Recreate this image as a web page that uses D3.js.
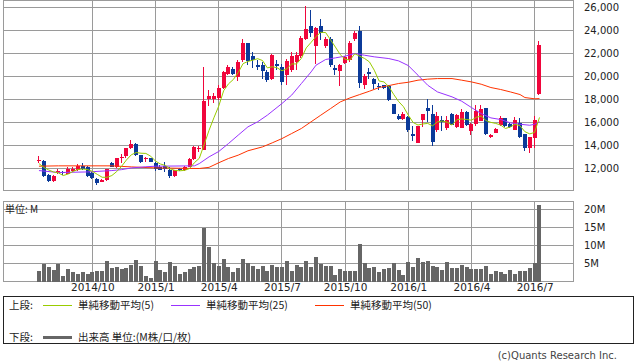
<!DOCTYPE html>
<html>
<head>
<meta charset="utf-8">
<script src="https://cdn.jsdelivr.net/npm/d3@7"></script>
<style>
body { margin: 0; background: #fff; }
svg text { font-family: "DejaVu Sans", sans-serif; fill: #222; }
.jp { font-family: "Noto Sans CJK JP", sans-serif; }
</style>
</head>
<body>
<div id="chart"></div>
<script>
// weekly bars, index 0 = first week shown
var opens = [12650,12640,11450,10900,11600,11700,11550,11750,11850,12200,
	12150,11650,11130,10850,11040,12520,12090,12870,13070,13740,
	14170,13160,12800,12870,12520,12140,12230,11860,11360,11950,
	11860,12140,12810,13700,13650,18030,18030,18090,18960,20200,
	20640,20000,21420,22870,21770,21040,21000,20410,19820,21070,
	20840,20110,20550,21270,21770,23300,24400,22670,24400,22670,
	23300,20700,20490,21190,21420,23220,23940,19250,20410,19770,
	19200,19250,19160,17590,16580,16290,16490,14980,14230,16260,
	17250,16720,15330,16200,15560,16780,15620,15560,16930,15270,
	15880,16140,17270,14700,15130,15770,16350,15910,15390,15970,
	14980,13820,14610,18520];
var highs = [13050,12750,11500,11450,11950,11800,12100,12100,12350,12450,
	12200,11700,11200,11050,12000,12600,12900,13300,13800,14460,
	14250,13200,13000,12900,12600,12300,12550,12100,11900,12050,
	12200,12900,13950,14000,20840,18800,18600,19300,20500,20990,
	20800,21450,23220,22950,22150,21400,21230,20600,22000,21400,
	21100,21550,22100,22150,23500,26100,25800,24300,25000,23400,
	23400,20980,21100,21800,23100,23960,24380,20200,20700,19900,
	19400,19300,19250,17650,16700,16900,16600,15700,15700,16750,
	18050,17500,16900,16600,16550,16800,16700,17150,17000,16000,
	17550,17550,17300,14980,15500,16560,16400,16000,16450,16350,
	15000,14700,16600,23070];
var lows = [12450,11250,10800,10850,11500,11450,11500,11700,11800,11900,
	11250,11100,10550,10800,10950,12100,12050,12450,12950,13700,
	13100,12450,12600,12550,11750,11850,11700,11200,11250,11800,
	11800,12100,12750,13450,13600,17420,17700,18000,18900,20100,
	20100,19650,21300,20980,20700,20560,19750,19500,19700,20560,
	19250,19250,20400,20600,21600,23200,23400,21130,23200,22500,
	20800,20120,19150,21050,21300,23100,19040,18950,19800,18950,
	18800,18900,17900,16700,16200,16250,15200,14400,14200,15600,
	16050,13950,15150,15300,15330,15750,15550,15500,15700,14880,
	15700,16100,14950,14650,15100,15700,15600,15550,15350,14650,
	13500,13360,13800,18380];
var closes = [12720,11360,10900,11350,11750,11600,12000,12000,12200,12000,
	11350,11180,10700,10980,11940,12140,12870,13010,13740,14170,
	13160,12580,12880,12580,12000,11910,12000,11360,11860,11850,
	12140,12810,13880,13760,17850,18290,18290,18960,20410,20840,
	20200,21270,22870,21360,21400,20840,20490,19680,21850,20950,
	19540,21330,21770,21850,23390,24120,23740,24260,23740,23250,
	20980,20560,20980,21710,22930,23740,19450,20030,20200,19330,
	19050,19040,18000,16780,16290,16780,15330,14840,15680,16720,
	17010,14320,16550,16060,16200,15770,16640,16900,15770,15910,
	17040,17160,14980,14950,15450,16350,15680,15620,16200,14700,
	13820,14700,16260,22720];
// volume, millions
var volumes = [2.9,4.9,4.0,3.2,4.9,1.6,3.4,2.6,2.0,2.6,
	2.0,2.6,2.9,2.9,5.7,3.75,4.0,3.5,3.75,4.5,
	6.0,4.2,1.5,1.1,5.7,3.1,2.5,5.4,4.3,2.0,
	2.6,3.4,3.9,4.2,14.9,9.7,5.1,4.3,6.25,4.0,
	2.6,3.65,6.25,5.1,4.3,3.5,4.2,2.9,4.5,3.9,
	4.0,5.7,2.9,4.5,3.9,5.7,3.9,6.8,4.8,4.2,
	4.2,1.9,3.4,2.8,2.8,2.8,10.3,5.1,3.65,3.9,
	2.5,3.4,3.65,5.1,3.1,1.9,5.4,3.9,6.5,5.4,
	5.7,4.2,3.9,3.1,5.4,3.65,3.65,4.5,3.9,3.4,
	3.4,3.4,4.2,2.2,2.8,2.5,2.2,3.1,2.2,2.8,
	2.8,3.65,5.1,21.3];
// moving averages
var sma5 = [12430,12100,11870,11700,11620,11390,11520,11740,11910,11960,
	11910,11750,11490,11240,11230,11390,11730,12190,12740,13190,
	13390,13330,13310,13070,12640,12390,12270,11970,11830,11800,
	11840,12000,12510,12890,14090,15320,16410,17430,18760,19360,
	19740,20340,21120,21310,21420,21550,21390,20750,20850,20760,
	20500,20670,21090,21090,21580,22490,22970,23470,23850,23820,
	23190,22560,21900,21500,21430,21980,21760,21570,21270,20550,
	19610,19530,19120,18440,17830,17380,16640,16000,15780,15870,
	15920,15710,16060,16130,16030,15780,16240,16310,16260,16200,
	16450,16560,16170,16010,15920,15780,15480,15610,15860,15710,
	15200,15010,15140,16440];
var sma25 = [[0,11820],[4,11650],[10,11700],[15,11820],[17,11900],[19,12050],[22,12150],
	[24,12200],[32,12230],[33,12430],[35,13010],[37,13480],[39,14170],[41,14900],
	[43,15620],[45,16060],[47,16640],[50,17650],[52,18380],[54,19390],[56,20400],
	[57,20980],[59,21480],[61,21620],[63,21770],[65,22000],[67,21850],[69,21710],
	[72,21560],[74,21360],[76,20950],[78,20110],[80,19240],[82,18660],[85,18230],
	[87,17850],[89,17300],[91,16780],[93,16400],[95,16260],[97,15970],[99,15850],
	[101,15760],[102,15850],[103,16060]];
var sma50 = [[0,12200],[4,12230],[15,12230],[19,12140],[24,12050],[33,12000],[35,12100],
	[37,12500],[39,12870],[41,13160],[43,13540],[46,13880],[48,14230],[50,14600],
	[52,15040],[54,15480],[56,16060],[58,16640],[60,17210],[62,17790],[64,18140],
	[66,18430],[68,18720],[70,19040],[72,19210],[74,19390],[76,19500],[78,19680],
	[80,19770],[82,19820],[85,19820],[87,19680],[89,19530],[91,19330],[93,19040],
	[95,18870],[97,18660],[99,18430],[100,18170],[102,18060],[103,18080]];

var tickWeeks = [11, 24, 37, 50, 63, 76, 89, 102];
var tickLabels = ["2014/10", "2015/1", "2015/4", "2015/7", "2015/10", "2016/1", "2016/4", "2016/7"];
var priceTicks = [12000, 14000, 16000, 18000, 20000, 22000, 24000, 26000];
var volTicks = [5, 10, 15, 20];

function init() {
	var width = 638, height = 362;
	var svg = d3.select("#chart").append("svg")
		.attr("width", width).attr("height", height);

	var x = d3.scaleLinear().domain([-7.4, 110.1]).range([3, 574]);
	var y = d3.scaleLinear().domain([10087, 26609]).range([190.5, 0.5]);
	var yv = d3.scaleLinear().domain([0, 22.22]).range([281.5, 201.5]);
	var px = function(v) { return Math.floor(v) + 0.5; };

	var grid = svg.append("g").attr("stroke", "#9a9a9a").attr("stroke-width", 1)
		.attr("shape-rendering", "crispEdges");

	// volume unit label (gridline runs through it)
	svg.append("text").attr("class", "jp")
		.attr("x", 5).attr("y", 209).attr("dy", "0.35em")
		.style("font-size", "10px").text("単位: M");

	grid.selectAll("line.hp").data(priceTicks).enter().append("line")
		.attr("x1", 3.5).attr("x2", 573.5)
		.attr("y1", function(d) { return px(y(d)); })
		.attr("y2", function(d) { return px(y(d)); });
	grid.selectAll("line.hv").data(volTicks).enter().append("line")
		.attr("x1", 3.5).attr("x2", 573.5)
		.attr("y1", function(d) { return px(yv(d)); })
		.attr("y2", function(d) { return px(yv(d)); });
	grid.selectAll("line.vp").data(tickWeeks).enter().append("line")
		.attr("x1", function(d) { return px(x(d)); })
		.attr("x2", function(d) { return px(x(d)); })
		.attr("y1", 0.5).attr("y2", 190.5);
	grid.selectAll("line.vv").data(tickWeeks).enter().append("line")
		.attr("x1", function(d) { return px(x(d)); })
		.attr("x2", function(d) { return px(x(d)); })
		.attr("y1", 201.5).attr("y2", 281.5);
	grid.append("rect").attr("x", 3.5).attr("y", 0.5).attr("width", 570).attr("height", 190).attr("fill", "none");
	grid.append("rect").attr("x", 3.5).attr("y", 201.5).attr("width", 570).attr("height", 80).attr("fill", "none");

	// volume bars
	svg.append("g").attr("shape-rendering", "crispEdges")
		.selectAll("rect").data(volumes).enter().append("rect")
		.attr("x", function(d, i) { return Math.round(x(i) - 2); })
		.attr("width", 4)
		.attr("y", function(d) { return yv(d); })
		.attr("height", function(d) { return yv(0) - yv(d); })
		.attr("fill", "#666");

	// candles
	var up = "#f0063c", down = "#0b3a99";
	var candles = svg.append("g").attr("shape-rendering", "crispEdges")
		.selectAll("g").data(closes).enter().append("g");
	candles.append("line")
		.attr("x1", function(d, i) { return Math.round(x(i) - 2) + 1.5; })
		.attr("x2", function(d, i) { return Math.round(x(i) - 2) + 1.5; })
		.attr("y1", function(d, i) { return y(highs[i]); })
		.attr("y2", function(d, i) { return y(lows[i]); })
		.attr("stroke", function(d, i) { return d >= opens[i] ? up : down; });
	candles.append("rect")
		.attr("x", function(d, i) { return Math.round(x(i) - 2); })
		.attr("width", 4)
		.attr("y", function(d, i) { return y(Math.max(d, opens[i])); })
		.attr("height", function(d, i) { return Math.max(1, Math.abs(y(d) - y(opens[i]))); })
		.attr("fill", function(d, i) { return d >= opens[i] ? up : down; });

	// moving averages
	var line5 = d3.line().x(function(d, i) { return x(i); }).y(function(d) { return y(d); });
	var linePts = d3.line().x(function(d) { return x(d[0]); }).y(function(d) { return y(d[1]); });
	svg.append("path").attr("d", linePts(sma50)).attr("fill", "none").attr("stroke", "#ff3300").attr("stroke-width", 1);
	svg.append("path").attr("d", linePts(sma25)).attr("fill", "none").attr("stroke", "#9933ff").attr("stroke-width", 1);
	svg.append("path").attr("d", line5(sma5)).attr("fill", "none").attr("stroke", "#99cc00").attr("stroke-width", 1);

	// axes
	var ya = svg.append("g").attr("transform", "translate(574,0)")
		.call(d3.axisRight(y).tickValues(priceTicks).tickFormat(d3.format(",")).tickSize(0).tickPadding(10));
	var va = svg.append("g").attr("transform", "translate(574,0)")
		.call(d3.axisRight(yv).tickValues(volTicks).tickFormat(function(d) { return d + "M"; }).tickSize(0).tickPadding(10));
	var xa = svg.append("g").attr("transform", "translate(0,282)")
		.call(d3.axisBottom(x).tickValues(tickWeeks).tickFormat(function(d, i) { return tickLabels[i]; }).tickSize(0).tickPadding(2));
	[ya, va, xa].forEach(function(a) {
		a.select(".domain").remove();
		a.selectAll("text").style("font-size", "10px").style("font-family", "DejaVu Sans").attr("fill", "#222");
	});
	xa.selectAll("text").style("font-size", "10.5px");

	// legend
	var lg = svg.append("g");
	lg.append("rect").attr("x", 3.5).attr("y", 296.5).attr("width", 630).attr("height", 47)
		.attr("fill", "none").attr("stroke", "#222").attr("shape-rendering", "crispEdges");
	var items = [
		{ x: 43, y: 305, color: "#99cc00", w: 1, label: "単純移動平均(5)" },
		{ x: 171, y: 305, color: "#9933ff", w: 1, label: "単純移動平均(25)" },
		{ x: 315, y: 305, color: "#ff3300", w: 1, label: "単純移動平均(50)" },
		{ x: 43, y: 337, color: "#666", w: 3, label: "出来高 単位:(M株/口/枚)" }
	];
	lg.append("text").attr("class", "jp").attr("x", 9).attr("y", 305).attr("dy", "0.35em").style("font-size", "10.5px").text("上段:");
	lg.append("text").attr("class", "jp").attr("x", 9).attr("y", 337).attr("dy", "0.35em").style("font-size", "10.5px").text("下段:");
	items.forEach(function(it) {
		lg.append("line").attr("x1", it.x).attr("x2", it.x + 29).attr("y1", it.y + 0.5).attr("y2", it.y + 0.5)
			.attr("stroke", it.color).attr("stroke-width", it.w);
		lg.append("text").attr("class", "jp").attr("x", it.x + 35).attr("y", it.y).attr("dy", "0.35em")
			.style("font-size", "10.5px").text(it.label);
	});

	svg.append("text").attr("x", 617).attr("y", 359).attr("text-anchor", "end")
		.style("font-size", "10px").style("fill", "#444").text("(c)Quants Research Inc.");
}

window.onload = init;
</script>
</body>
</html>
